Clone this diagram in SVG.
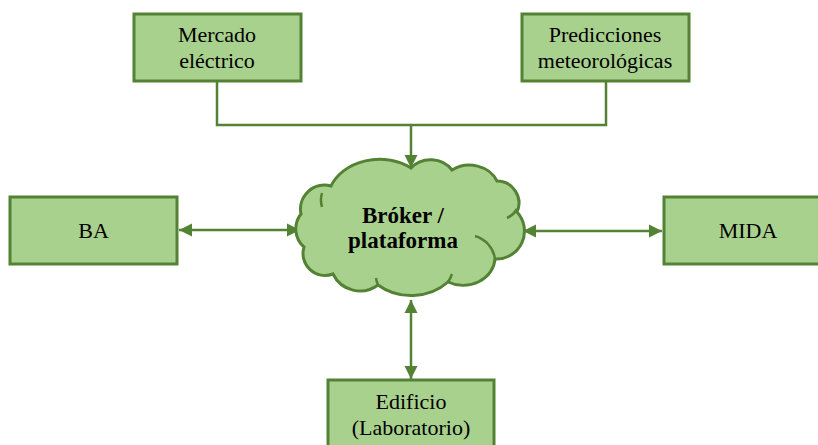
<svg xmlns="http://www.w3.org/2000/svg" width="818" height="445" viewBox="0 0 818 445">
<style>
.box{fill:#A9D18E;stroke:#548235;stroke-width:3}
.ln{fill:none;stroke:#548235;stroke-width:2.5}
.t{font-family:"Liberation Serif","Times New Roman",serif;font-size:22px;fill:#000;text-anchor:middle}
.b{font-weight:bold;font-size:23px}
</style>
<defs>
<marker id="ah" markerUnits="userSpaceOnUse" markerWidth="14" markerHeight="14" viewBox="0 0 14 14" refX="13" refY="7" orient="auto-start-reverse">
<path d="M0,0.5 L13,7 L0,13.5 z" fill="#548235"/>
</marker>
</defs>
<rect width="818" height="445" fill="#fff"/>
<g id="connectors">
<path class="ln" d="M217,81 V125 H606 V82"/>
<path class="ln" d="M411,125 V168" marker-end="url(#ah)"/>
<path class="ln" d="M179,230 H300" marker-start="url(#ah)" marker-end="url(#ah)"/>
<path class="ln" d="M523,231 H662" marker-start="url(#ah)" marker-end="url(#ah)"/>
<path class="ln" d="M411,300 V379" marker-start="url(#ah)" marker-end="url(#ah)"/>
</g>
<g id="mercado">
<rect class="box" x="134" y="14" width="167" height="67"/>
<text class="t" x="217" y="42">Mercado</text>
<text class="t" x="217" y="68">eléctrico</text>
</g>
<g id="predicciones">
<rect class="box" x="522" y="14" width="167" height="67"/>
<text class="t" x="605" y="42">Predicciones</text>
<text class="t" x="605" y="68">meteorológicas</text>
</g>
<g id="ba">
<rect class="box" x="10" y="197" width="167" height="67"/>
<text class="t" x="93.5" y="238">BA</text>
</g>
<g id="mida">
<rect class="box" x="664" y="197" width="170" height="67"/>
<text class="t" x="748" y="238">MIDA</text>
</g>
<g id="edificio">
<rect class="box" x="328" y="380" width="166" height="70"/>
<text class="t" x="411" y="409">Edificio</text>
<text class="t" x="411" y="435">(Laboratorio)</text>
</g>
<g id="broker">
<path class="box" d="M301,214 A24,24 0 0 1 331,186 A52,42 0 0 1 411,168 A26,24 0 0 1 452,170 A30,26 0 0 1 497,181 A22,22 0 0 1 517,212 A28,28 0 0 1 495,259 A32,28 0 0 1 448,282 A52,46 0 0 1 378,285 A30,30 0 0 1 333,274 A22,22 0 0 1 304,247 A24,24 0 0 1 301,214 Z"/>
<path class="ln" d="M322,207 A24,24 0 0 1 322,193"/>
<path class="ln" d="M507,218 A22,22 0 0 0 517,209"/>
<path class="ln" d="M475,236 A28,28 0 0 1 495,259"/>
<path class="ln" d="M448,282 A30,30 0 0 0 452,274"/>
<path class="ln" d="M378,285 A30,30 0 0 1 376,278"/>
<text class="t b" x="403" y="223">Bróker /</text>
<text class="t b" x="403" y="248">plataforma</text>
</g>
</svg>
